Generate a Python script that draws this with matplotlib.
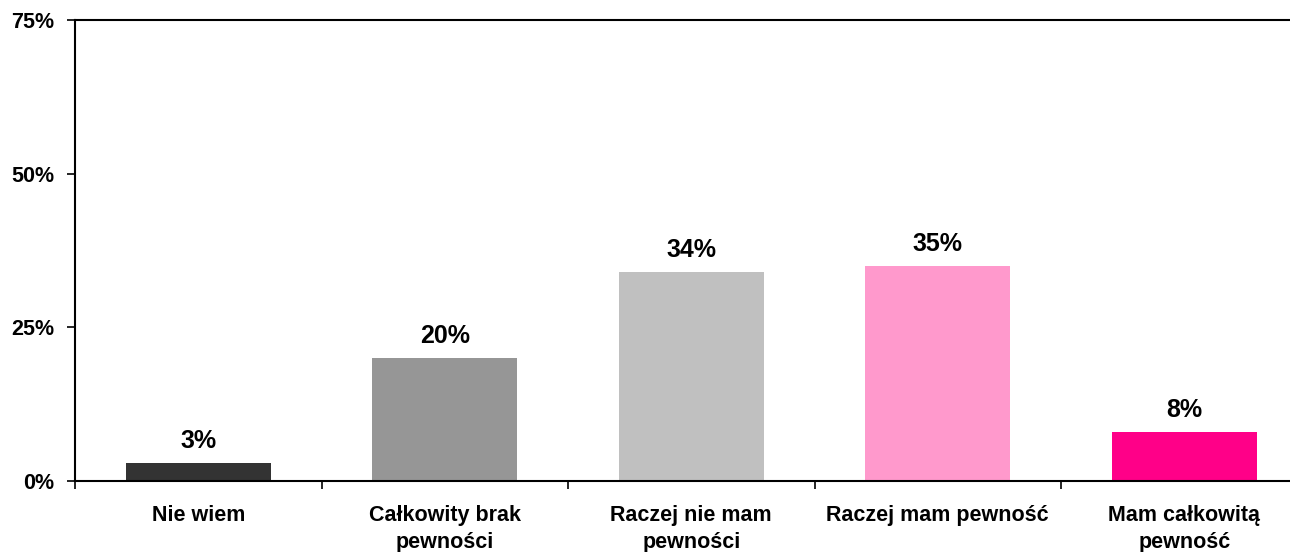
import numpy as np
import matplotlib
matplotlib.use('Agg')
import matplotlib.pyplot as plt
from matplotlib.ticker import FixedLocator

plt.rcParams['font.family'] = ['Liberation Sans', 'DejaVu Sans']

# dane z wykresu
kategorie = ['Nie wiem', 'Całkowity brak\npewności', 'Raczej nie mam\npewności',
             'Raczej mam pewność', 'Mam całkowitą\npewność']
wartosci = [3, 20, 34, 35, 8]
kolory = ['#333333', '#969696', '#c0c0c0', '#ff99cc', '#ff0088']
y_ticks = [0, 25, 50, 75]

fig = plt.figure(figsize=(12.9, 5.52), dpi=100)
# os wychodzi troche poza prawa krawedz, tak jak w oryginale
ax = fig.add_axes([75 / 1290, 71 / 552, 1232.5 / 1290, 461 / 552])

x = np.arange(len(kategorie))
ax.bar(x, wartosci, width=0.59, color=kolory, zorder=2)

for xi, v in zip(x, wartosci):
    ax.annotate(f'{v}%', (xi, v), xytext=(0, 7), textcoords='offset points',
                ha='center', va='bottom', fontsize=18, fontweight='bold')

ax.set_xlim(-0.5, len(kategorie) - 0.5)
ax.set_ylim(0, 75)

ax.set_yticks(y_ticks)
ax.set_yticklabels([f'{t}%' for t in y_ticks], fontsize=15.5, fontweight='bold')
ax.tick_params(axis='y', direction='out', length=6, width=1.2, pad=9)

ax.set_xticks(x)
ax.set_xticklabels(kategorie, fontsize=15.5, fontweight='bold', linespacing=1.42)
ax.tick_params(axis='x', which='major', length=0, pad=17)
ax.xaxis.set_minor_locator(FixedLocator(np.arange(-0.5, len(kategorie), 1)))
ax.tick_params(axis='x', which='minor', direction='out', length=6, width=1.2)

for s in ['left', 'bottom', 'top']:
    ax.spines[s].set_linewidth(1.5)
ax.spines['right'].set_visible(False)

plt.savefig('out.png', dpi=100)
